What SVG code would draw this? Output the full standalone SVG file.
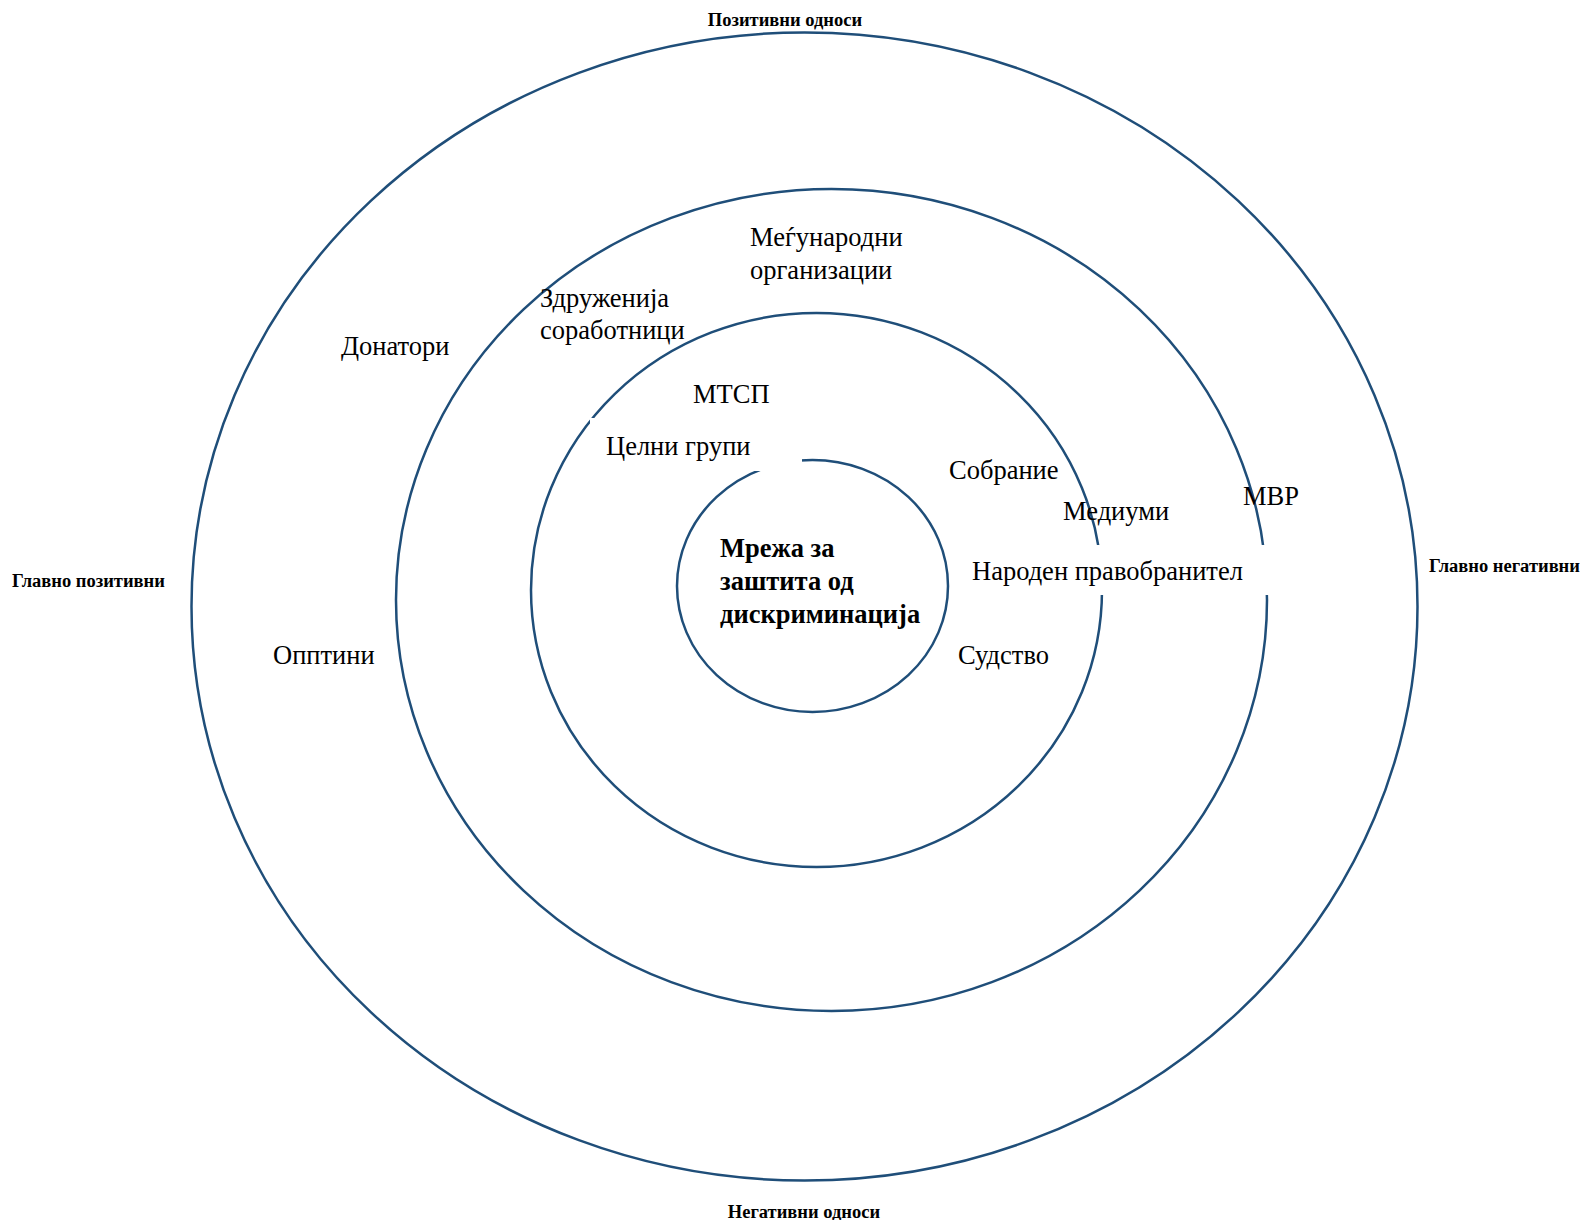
<svg xmlns="http://www.w3.org/2000/svg" width="1585" height="1220" viewBox="0 0 1585 1220">
<style>
.ring{fill:none;stroke:#1f4e79;stroke-width:2.5}
.t{font-family:"Liberation Serif","Times New Roman",serif;font-size:26.5px;fill:#000}
.b{font-family:"Liberation Serif","Times New Roman",serif;font-size:26.5px;font-weight:bold;fill:#000}
.s{font-family:"Liberation Serif","Times New Roman",serif;font-size:18.5px;font-weight:bold;fill:#000}
.mask{fill:#fff}
</style>
<rect width="1585" height="1220" fill="#fff"/>
<g id="rings">
<ellipse id="ring-outer" class="ring" cx="804.5" cy="606.5" rx="613" ry="574"/>
<ellipse id="ring-2" class="ring" cx="831.5" cy="600" rx="435.5" ry="411"/>
<ellipse id="ring-3" class="ring" cx="816.5" cy="590" rx="285.5" ry="277"/>
<ellipse id="ring-inner" class="ring" cx="812.5" cy="586" rx="135.5" ry="126"/>
</g>
<g id="masks">
<rect class="mask" x="590" y="418" width="212" height="53"/>
<rect class="mask" x="965" y="545" width="308" height="50"/>
</g>
<g id="axis-labels">
<text id="lbl-top" class="s" x="785" y="26" text-anchor="middle">Позитивни односи</text>
<text id="lbl-left" class="s" x="12" y="587">Главно позитивни</text>
<text id="lbl-right" class="s" x="1429" y="572">Главно негативни</text>
<text id="lbl-bottom" class="s" x="804" y="1218" text-anchor="middle">Негативни односи</text>
</g>
<g id="node-center"><text class="b" x="720" y="557">Мрежа за</text><text class="b" x="720" y="590">заштита од</text><text class="b" x="720" y="623">дискриминација</text></g>
<g id="node-megjunarodni"><text class="t" x="750" y="246">Меѓународни</text><text class="t" x="750" y="279">организации</text></g>
<g id="node-zdruzenija"><text class="t" x="540" y="307">Здруженија</text><text class="t" x="540" y="339">соработници</text></g>
<g id="node-donatori"><text class="t" x="341" y="355">Донатори</text></g>
<g id="node-mtsp"><text class="t" x="693" y="403">МТСП</text></g>
<g id="node-celni"><text class="t" x="606" y="455">Целни групи</text></g>
<g id="node-sobranie"><text class="t" x="949" y="479">Собрание</text></g>
<g id="node-mediumi"><text class="t" x="1063" y="520">Медиуми</text></g>
<g id="node-mvr"><text class="t" x="1243" y="505">МВР</text></g>
<g id="node-narodnen"><text class="t" x="972" y="580">Народен правобранител</text></g>
<g id="node-opstini"><text class="t" x="273" y="664">Опптини</text></g>
<g id="node-sudstvo"><text class="t" x="958" y="664">Судство</text></g>
</svg>
